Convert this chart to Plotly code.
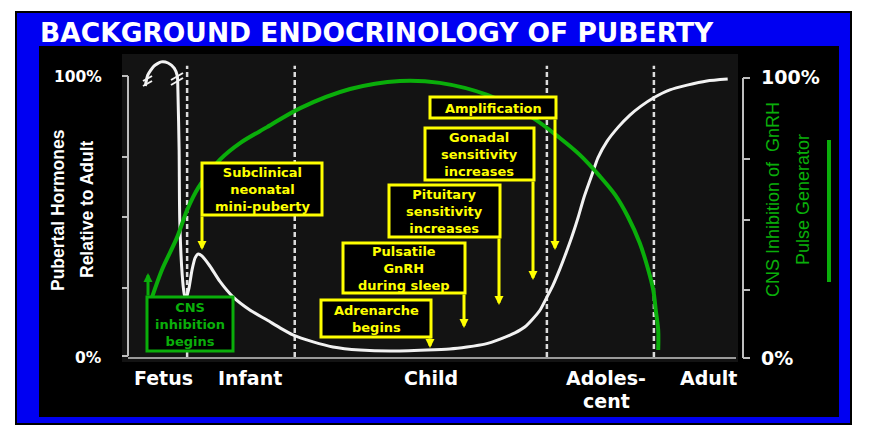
import plotly.graph_objects as go

# ---------------- data ----------------
# x = relative life time (0 .. 100 across the chart), y = % of adult level
fetal_t = [3.3, 3.7, 4.7, 5.9, 7.0, 8.0, 8.5, 8.6, 8.8, 8.9, 9.3, 9.6, 9.9]
fetal_level = [96.8, 100.7, 103.9, 105.4, 105.0, 103.2, 100.4, 95.4, 73.9, 48.9, 29.3, 22.9, 20.4]

postnatal_t = [9.9, 10.4, 10.9, 11.4, 11.9, 12.5, 13.8, 15.4, 17.6, 20.3, 23.1, 25.2, 27.3,
               30.6, 33.8, 38.2, 43.1, 49.1, 52.8, 55.6, 58.5, 61.0, 63.4, 65.0, 66.3,
               67.5, 68.6, 69.6, 70.7, 71.7, 72.7, 73.7, 74.6, 75.8, 76.9, 78.4, 80.2,
               82.1, 83.9, 85.9, 88.6, 91.4, 94.6, 98.0]
postnatal_level = [20.4, 24.6, 31.1, 35.4, 36.8, 36.1, 32.5, 27.1, 21.4, 16.8, 13.2, 10.4, 7.9,
                   5.4, 3.6, 2.5, 2.1, 2.5, 2.9, 3.6, 4.6, 6.4, 8.6, 10.7, 13.6,
                   16.8, 21.4, 25.7, 31.4, 37.1, 43.2, 50.0, 56.8, 64.3, 71.1, 77.1, 82.1,
                   86.4, 89.6, 92.5, 95.4, 97.1, 98.6, 99.3]

cns_t = [4.4, 6.0, 8.5, 10.1, 11.9, 15.4, 18.7, 23.1, 28.5, 36.6, 44.7, 51.2, 58.9, 66.3,
         70.7, 74.0, 77.2, 79.7, 81.8, 83.7, 85.0, 85.9, 86.3, 86.7, 86.7]
cns_level = [21.4, 31.1, 42.9, 52.5, 60.4, 70.4, 76.4, 82.1, 88.9, 95.7, 98.6, 97.9, 93.6, 85.4,
             78.2, 72.1, 64.6, 57.9, 50.0, 40.7, 31.8, 23.9, 16.8, 9.6, 2.5]

stage_bounds = [10.1, 27.6, 68.6, 86.0]
stage_labels = ["Fetus", "Infant", "Child", "Adoles-", "cent", "Adult"]
tick_labels = ["100%", "0%"]

event_labels = [
    ["Subclinical", "neonatal", "mini-puberty"],
    ["Adrenarche", "begins"],
    ["Pulsatile", "GnRH", "during sleep"],
    ["Pituitary", "sensitivity", "increases"],
    ["Gonadal", "sensitivity", "increases"],
    ["Amplification"],
]
cns_label = ["CNS", "inhibition", "begins"]

# ---------------- layout geometry (pixels) ----------------
W, H = 872, 439
L, R, T, B = 110, 112, 50, 67
X0_PX, X100_PX = 125, 740
Y0_PX, Y100_PX = 357, 77
sx = (X100_PX - X0_PX) / 100.0
sy = (Y0_PX - Y100_PX) / 100.0
x_range = [(L - X0_PX) / sx, (W - R - X0_PX) / sx]
y_range = [(Y0_PX - (H - B)) / sy, (Y0_PX - T) / sy]


def PX(x):
    return (x - L) / (W - L - R)


def PY(y):
    return (H - B - y) / (H - T - B)


WHITE = "#f2f2f2"
YELLOW = "#ffff00"
GREEN = "#0aae0a"
BLUE = "#0000f2"
BOLD = "DejaVu Sans"

fig = go.Figure()
fig.add_trace(go.Scatter(x=fetal_t, y=fetal_level, mode="lines",
                         line=dict(color=WHITE, width=3, shape="spline", smoothing=0.6),
                         hoverinfo="skip", cliponaxis=False))
fig.add_trace(go.Scatter(x=postnatal_t, y=postnatal_level, mode="lines",
                         line=dict(color=WHITE, width=3, shape="spline", smoothing=0.6),
                         hoverinfo="skip", cliponaxis=False))
fig.add_trace(go.Scatter(x=cns_t, y=cns_level, mode="lines",
                         line=dict(color=GREEN, width=4, shape="spline", smoothing=0.9),
                         hoverinfo="skip", cliponaxis=False))

shapes = []


def rect(x0, y0, x1, y1, fill, line_color=None, lw=0, layer="below"):
    shapes.append(dict(type="rect", xref="paper", yref="paper",
                       x0=PX(x0), x1=PX(x1), y0=PY(y1), y1=PY(y0),
                       fillcolor=fill, layer=layer,
                       line=dict(color=line_color or fill, width=lw)))


def seg(x0, y0, x1, y1, color, lw, layer="below", dash=None):
    shapes.append(dict(type="line", xref="paper", yref="paper",
                       x0=PX(x0), x1=PX(x1), y0=PY(y0), y1=PY(y1), layer=layer,
                       line=dict(color=color, width=lw, dash=dash)))


# frame
rect(16, 12, 851, 424, BLUE, "#000000", 2)
rect(39, 46, 839, 417, "#000000")
rect(122, 54, 738, 362, "#131313")

# stage boundaries (dashed)
for b in stage_bounds:
    shapes.append(dict(type="line", xref="x", yref="y", x0=b, x1=b, y0=0, y1=104,
                       layer="below", line=dict(color="#dcdcdc", width=2.5, dash="5px,3px")))

# axis brackets + baseline
seg(128, 76, 128, 356, "#bdbdbd", 2)
for ty in [76, 157, 217, 288, 356]:
    seg(122, ty, 128, ty, "#bdbdbd", 2)
seg(743, 78, 743, 358, "#bdbdbd", 2)
for ty in [78, 159, 220, 290, 358]:
    seg(743, ty, 750, ty, "#bdbdbd", 2)
seg(128, 358, 736, 358, "#9a9a9a", 2)

# broken-axis marks on the fetal surge
seg(143, 81, 152, 76, WHITE, 2, layer="above")
seg(143, 86, 152, 81, WHITE, 2, layer="above")
seg(171, 80, 183, 73, WHITE, 2, layer="above")
seg(171, 85, 183, 78, WHITE, 2, layer="above")

# legend swatch
seg(829, 140, 829, 282, GREEN, 4)

annotations = []


def text(x, y, s, size, color, family=BOLD, bold=True, xanchor="center", angle=0):
    annotations.append(dict(xref="paper", yref="paper", x=PX(x), y=PY(y),
                            text=("<b>%s</b>" % s) if bold else s, showarrow=False,
                            xanchor=xanchor, yanchor="middle", textangle=angle,
                            font=dict(family=family, size=size, color=color)))


def arrow(x, y_tail, y_tip, color):
    annotations.append(dict(xref="paper", yref="paper", x=PX(x), y=PY(y_tip),
                            ax=0, ay=(y_tail - y_tip), text="", showarrow=True,
                            arrowhead=2, arrowsize=0.6, arrowwidth=3, arrowcolor=color))


# title
text(377, 33, "BACKGROUND ENDOCRINOLOGY OF PUBERTY", 26.5, "#ffffff")

# tick labels
text(104, 77, tick_labels[0], 15.5, "#ffffff", xanchor="right")
text(104, 358, tick_labels[1], 15.5, "#ffffff", xanchor="right")
text(759, 77, tick_labels[0], 19, "#ffffff", xanchor="left")
text(759, 358, tick_labels[1], 19, "#ffffff", xanchor="left")

# axis titles
text(58, 210, "Pubertal Hormones", 17.5, "#ffffff", family="Liberation Sans", angle=-90)
text(87, 209, "Relative to Adult", 17.5, "#ffffff", family="Liberation Sans", angle=-90)
text(773, 200, "CNS Inhibition of  GnRH", 18, GREEN, family="Liberation Sans", bold=False, angle=-90)
text(803, 200, "Pulse Generator", 18, GREEN, family="Liberation Sans", bold=False, angle=-90)

# stage labels
stage_pos = [(163, 378), (250, 378), (431, 378), (606, 378), (606, 401), (708, 378)]
for lab, (sxp, syp) in zip(stage_labels, stage_pos):
    text(sxp, syp, lab, 19, "#ffffff")

# event boxes: (box x0, y0, x1, y1, arrow x, arrow tip y)
event_geo = [
    (202, 163, 322, 215, 202, 250),
    (321, 300, 431, 337, 430, 348),
    (343, 243, 465, 293, 464, 328),
    (389, 185, 500, 237, 499, 305),
    (425, 128, 534, 180, 533, 280),
    (430, 97, 556, 118, 555, 250),
]
for lines, (x0, y0, x1, y1, axp, tip) in zip(event_labels, event_geo):
    arrow(axp, y1, tip, YELLOW)
    rect(x0, y0, x1, y1, "#000000", YELLOW, 3, layer="above")
    text((x0 + x1) / 2, (y0 + y1) / 2 + 0.5, "<br>".join(lines), 13, YELLOW)

# CNS inhibition box
arrow(148, 297, 273, GREEN)
rect(147, 297, 233, 351, "#000000", GREEN, 3, layer="above")
text(190, 324.5, "<br>".join(cns_label), 13, GREEN)

fig.update_layout(
    width=W, height=H,
    margin=dict(l=L, r=R, t=T, b=B, pad=0),
    paper_bgcolor="#ffffff", plot_bgcolor="rgba(0,0,0,0)",
    showlegend=False,
    xaxis=dict(range=x_range, visible=False, fixedrange=True),
    yaxis=dict(range=y_range, visible=False, fixedrange=True),
    shapes=shapes, annotations=annotations,
)

fig.write_html("out.html", config={"displayModeBar": False},
               post_script="document.body.style.margin='0';")
